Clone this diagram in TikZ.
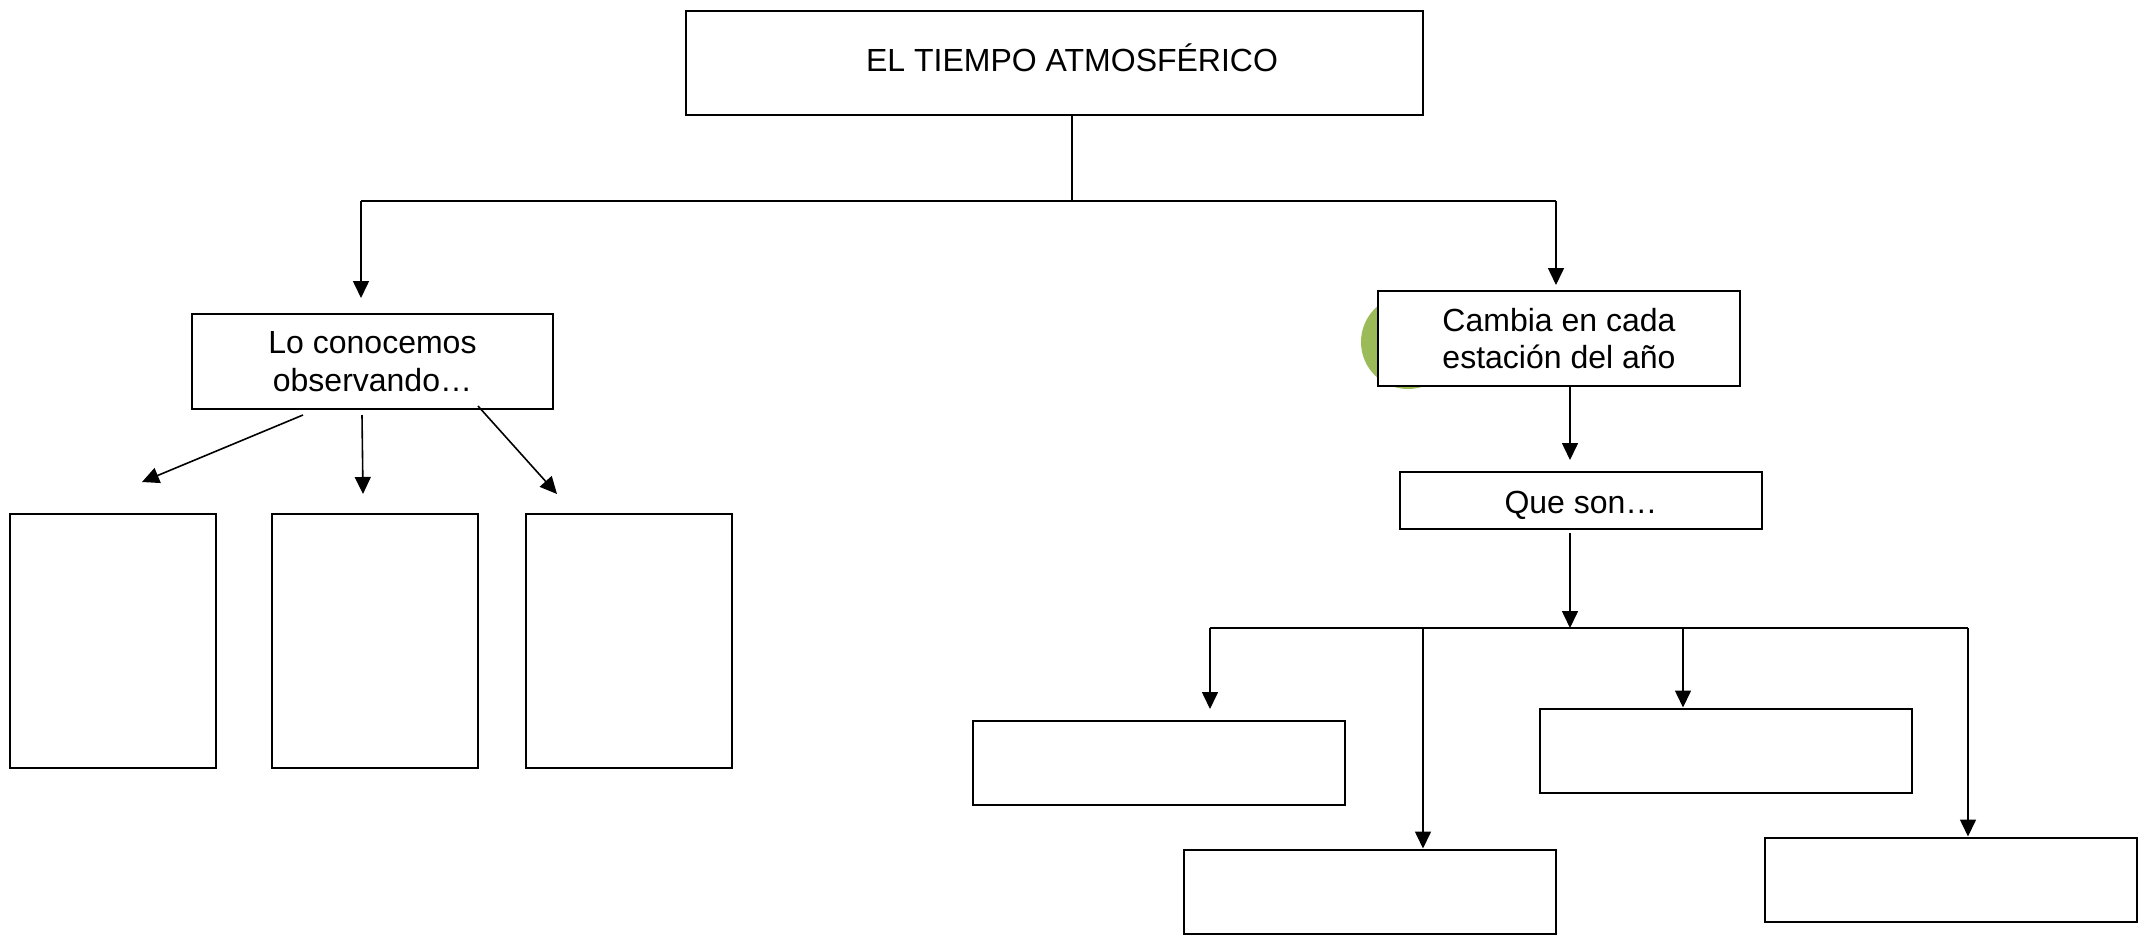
\documentclass[tikz,border=0pt]{standalone}
\usepackage{fontspec}
\setmainfont{Liberation Sans}
\usepackage{xcolor}
\usetikzlibrary{arrows.meta, positioning, calc}
\definecolor{verdeoliva}{HTML}{9BBB59}

\begin{document}
\begin{tikzpicture}[x=0.5pt, y=-0.5pt,
    caja/.style={draw, line width=1pt, fill=white, inner sep=0pt, align=center, font=\fontsize{16}{18.7}\selectfont},
    texto/.style={font=\fontsize{16}{18.7}\selectfont},
    linea/.style={line width=0.8pt},
    flecha/.style={line width=0.8pt, -{Triangle[length=8.5pt, width=8pt]}}]
    \useasboundingbox (0,0) rectangle (2144,938);

    % Tema principal
    \node[caja, minimum width=368.5pt, minimum height=52pt] (tiempo) at (1054.5,63) {};
    \node[texto] (titulo) at (1072,58) {EL TIEMPO ATMOSFÉRICO};
    \coordinate (rama) at (1072,201);
    \coordinate (ramaI) at (361,201);
    \coordinate (ramaD) at (1556,201);
    \coordinate (finI) at (361,298);
    \coordinate (finD) at (1556,285);
    \draw[linea] (rama |- tiempo.south) -- (rama);
    \draw[linea] (ramaI) -- (ramaD);
    \draw[flecha] (ramaI) -- (finI);
    \draw[flecha] (ramaD) -- (finD);

    % Rama izquierda
    \node[caja, minimum width=180.5pt, minimum height=47.5pt] (conocemos) at (372.5,361.5) {Lo conocemos\\observando\dots};
    \foreach \i/\x in {1/113, 2/374.5, 3/628.5}
        \node[caja, minimum width=103pt, minimum height=127pt] (obs\i) at (\x,641) {};
    \coordinate (iniA) at (303,415);
    \coordinate (iniB) at (362,415);
    \coordinate (iniC) at (478,406);
    \coordinate (finA) at (142,482);
    \coordinate (finB) at (363,494);
    \coordinate (finC) at (557,494);
    \draw[flecha] (iniA) -- (finA);
    \draw[flecha] (iniB) -- (finB);
    \draw[flecha] (iniC) -- (finC);

    % Rama derecha
    \fill[verdeoliva] (1408,342) circle[radius=23.5pt];
    \node[caja, minimum width=181pt, minimum height=47.5pt] (cambia) at (1559,338.5) {Cambia en cada\\estación del año};
    \node[caja, minimum width=181pt, minimum height=28.5pt, text height=13.8pt, text depth=1pt] (queson) at (1581,500.5) {Que son\dots};
    \coordinate (finQ) at (1570,460);
    \draw[flecha] (cambia.south -| finQ) -- (finQ);

    % Estaciones
    \node[caja, minimum width=186pt, minimum height=42pt] (est1) at (1159,763) {};
    \node[caja, minimum width=186pt, minimum height=42pt] (est2) at (1370,891.5) {};
    \node[caja, minimum width=186pt, minimum height=42pt] (est3) at (1725.5,750.5) {};
    \node[caja, minimum width=186pt, minimum height=42pt] (est4) at (1951,879.5) {};
    \coordinate (reparto) at (1570,628);
    \coordinate (repI) at (1210,628);
    \coordinate (repD) at (1968,628);
    \draw[flecha] ($(queson.south -| reparto)+(0,3)$) -- (reparto);
    \draw[linea] (repI) -- (repD);
    \draw[flecha] (repI) -- (1210,709);
    \draw[flecha] (1423,628) -- (est2.north -| 1423,0);
    \draw[flecha] (1683,628) -- (est3.north -| 1683,0);
    \draw[flecha] (repD) -- (est4.north -| repD);
\end{tikzpicture}
\end{document}
